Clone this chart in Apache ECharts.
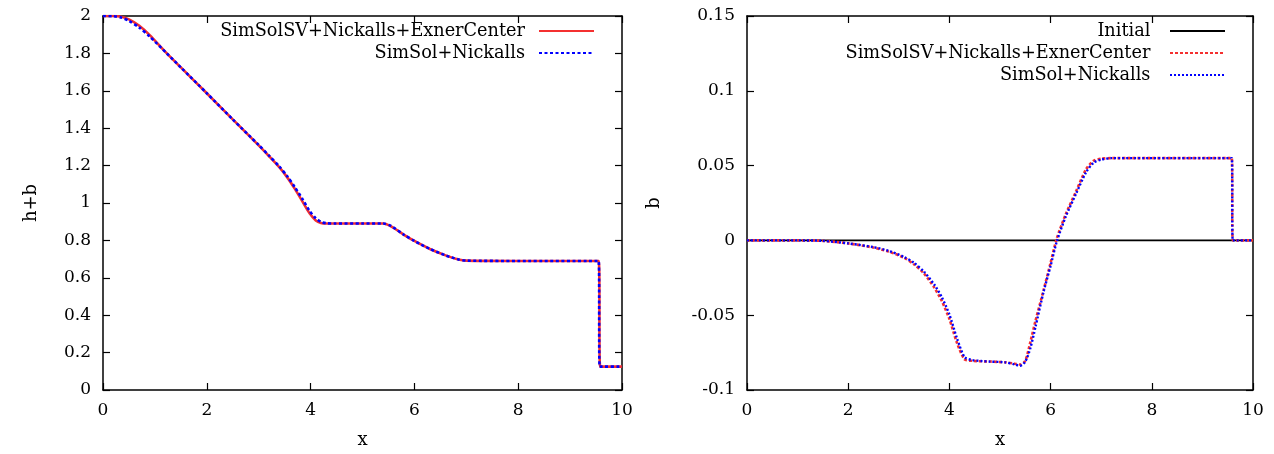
<!DOCTYPE html>
<html>
<head>
<meta charset="utf-8">
<script src="https://cdn.jsdelivr.net/npm/echarts@6/dist/echarts.min.js"></script>
<style>
html,body{margin:0;padding:0;background:#fff;}
#chart{width:1274px;height:454px;}
</style>
</head>
<body>
<div id="chart"></div>
<script>
// ---- Data ----
// Left panel: h+b
const hbX    = [0, 0.2, 0.35, 0.5, 0.7, 0.9, 1.23, 1.5, 2.0, 2.5, 3.0, 3.2, 3.4, 3.55, 3.7, 3.85, 3.98, 4.1, 4.2, 4.3, 4.45, 5.0, 5.4, 5.55, 5.8, 6.0, 6.3, 6.6, 6.85, 7.0, 8.0, 9.55, 9.58, 10];
const hbRed  = [2.0, 2.0, 1.996, 1.982, 1.948, 1.898, 1.80, 1.725, 1.587, 1.447, 1.308, 1.25, 1.19, 1.137, 1.074, 1.005, 0.945, 0.907, 0.893, 0.89, 0.89, 0.89, 0.89, 0.875, 0.83, 0.797, 0.754, 0.72, 0.698, 0.692, 0.69, 0.69, 0.125, 0.125];
const hbBlueX = [0, 0.2, 0.35, 0.5, 0.7, 0.9, 1.23, 1.5, 2.0, 2.5, 3.0, 3.2, 3.4, 3.55, 3.7, 3.85, 3.98, 4.1, 4.2, 4.3, 4.45, 5.0, 5.4, 5.55, 5.8, 6.0, 6.3, 6.6, 6.85, 7.0, 8.0, 9.55, 9.57, 10];
const hbBlue = [2.0, 1.999, 1.992, 1.974, 1.938, 1.89, 1.80, 1.725, 1.587, 1.447, 1.31, 1.253, 1.194, 1.143, 1.083, 1.018, 0.958, 0.918, 0.899, 0.892, 0.89, 0.89, 0.89, 0.877, 0.83, 0.797, 0.754, 0.72, 0.698, 0.692, 0.69, 0.69, 0.125, 0.125];

// Right panel: b
const bX    = [0, 1.0, 1.5, 2.0, 2.5, 2.8, 3.1, 3.3, 3.5, 3.7, 3.85, 4.0, 4.15, 4.3, 4.45, 4.8, 5.1, 5.3, 5.4, 5.5, 5.6, 5.7, 5.86, 6.0, 6.12, 6.3, 6.5, 6.7, 6.85, 7.0, 7.2, 9.58, 9.6, 10];
const bRed  = [0, 0, -0.0003, -0.002, -0.0048, -0.0075, -0.0115, -0.016, -0.0222, -0.0315, -0.0405, -0.0525, -0.0685, -0.0795, -0.0805, -0.081, -0.0815, -0.0825, -0.083, -0.0805, -0.068, -0.054, -0.0335, -0.015, 0.001, 0.0175, 0.0325, 0.0475, 0.0532, 0.0546, 0.055, 0.055, 0, 0];
const bBlue = [0, 0, -0.0003, -0.002, -0.0045, -0.007, -0.011, -0.015, -0.021, -0.0295, -0.038, -0.0495, -0.0655, -0.078, -0.080, -0.081, -0.0815, -0.083, -0.0838, -0.081, -0.072, -0.058, -0.0345, -0.017, -0.001, 0.016, 0.031, 0.0455, 0.052, 0.054, 0.055, 0.055, 0, 0];
const initX = [0, 10];
const initB = [0, 0];

// Axis ticks
const xTicks = {min: 0, max: 10, interval: 2};
const hbTicks = {min: 0, max: 2, interval: 0.2};
const bTicks = {min: -0.1, max: 0.15, interval: 0.05};

const names = {
  initial: 'Initial',
  sv: 'SimSolSV+Nickalls+ExnerCenter',
  ss: 'SimSol+Nickalls'
};

// ---- helpers ----
function zip(xs, ys) { return xs.map((x, i) => [x, ys[i]]); }
const FONT = 'DejaVu Serif';
const axisLine = {show: true, onZero: false, lineStyle: {color: '#000', width: 1.5}};
const axisTick = {show: true, inside: true, length: 7, lineStyle: {color: '#000', width: 1.2}};
const axisLabel = {show: true, color: '#000', fontFamily: FONT, fontSize: 17, margin: 12};

function xAxisDef(grid, top, name) {
  return Object.assign({
    type: 'value', gridIndex: grid, position: top ? 'top' : 'bottom',
    axisLine, axisTick, splitLine: {show: false},
    axisLabel: top ? {show: false} : axisLabel,
    name: top ? '' : name, nameLocation: 'middle', nameGap: 41,
    nameTextStyle: {color: '#000', fontFamily: FONT, fontSize: 18}
  }, xTicks);
}
function yAxisDef(grid, right, ticks, name, gap) {
  return Object.assign({
    type: 'value', gridIndex: grid, position: right ? 'right' : 'left',
    axisLine, axisTick, splitLine: {show: false},
    axisLabel: right ? {show: false} : axisLabel,
    name: right ? '' : name, nameLocation: 'middle', nameGap: gap, nameRotate: 90,
    nameTextStyle: {color: '#000', fontFamily: FONT, fontSize: 18}
  }, ticks);
}

const legendText = {color: '#000', fontFamily: FONT, fontSize: 17.7, lineHeight: 22, padding: [0, 9, 0, 0]};
const legendCommon = {
  orient: 'vertical', align: 'right', top: 20, itemGap: 0, padding: 0,
  itemWidth: 55, itemHeight: 14, textStyle: legendText,
  itemStyle: {opacity: 0}
};

const option = {
  animation: false,
  backgroundColor: '#fff',
  grid: [
    {left: 103, right: 652, top: 16, bottom: 64},
    {left: 747, right: 21, top: 16, bottom: 64}
  ],
  xAxis: [
    xAxisDef(0, false, 'x'), xAxisDef(0, true, ''),
    xAxisDef(1, false, 'x'), xAxisDef(1, true, '')
  ],
  yAxis: [
    yAxisDef(0, false, hbTicks, 'h+b', 63), yAxisDef(0, true, hbTicks, '', 0),
    yAxisDef(1, false, bTicks, 'b', 84), yAxisDef(1, true, bTicks, '', 0)
  ],
  legend: [
    Object.assign({}, legendCommon, {
      right: 679,
      data: [names.sv, names.ss].map(n => ({name: n}))
    }),
    Object.assign({}, legendCommon, {
      right: 48,
      data: [names.initial + ' ', names.sv + ' ', names.ss + ' '].map(n => ({name: n}))
    })
  ],
  series: [
    {
      name: names.sv, type: 'line', xAxisIndex: 0, yAxisIndex: 0,
      data: zip(hbX, hbRed), showSymbol: false, smooth: 0.25,
      lineStyle: {color: '#f43030', width: 2.6, type: 'solid'}, itemStyle: {color: '#f43030'}, z: 2
    },
    {
      name: names.ss, type: 'line', xAxisIndex: 0, yAxisIndex: 0,
      data: zip(hbBlueX, hbBlue), showSymbol: false, smooth: 0.25,
      lineStyle: {color: '#0000ff', width: 2.6, type: [3, 2.5]}, itemStyle: {color: '#0000ff'}, z: 3
    },
    {
      name: names.initial + ' ', type: 'line', xAxisIndex: 2, yAxisIndex: 2,
      data: zip(initX, initB), showSymbol: false,
      lineStyle: {color: '#000', width: 1.6, type: 'solid'}, itemStyle: {color: '#000'}, z: 1
    },
    {
      name: names.sv + ' ', type: 'line', xAxisIndex: 2, yAxisIndex: 2,
      data: zip(bX, bRed), showSymbol: false, smooth: 0.25,
      lineStyle: {color: '#f43030', width: 2.6, type: [3, 2]}, itemStyle: {color: '#f43030'}, z: 2
    },
    {
      name: names.ss + ' ', type: 'line', xAxisIndex: 2, yAxisIndex: 2,
      data: zip(bX, bBlue), showSymbol: false, smooth: 0.25,
      lineStyle: {color: '#0000ff', width: 2.4, type: [2, 2]}, itemStyle: {color: '#0000ff'}, z: 3
    }
  ]
};

const chart = echarts.init(document.getElementById('chart'), null, {renderer: 'canvas'});
chart.setOption(option);
</script>
</body>
</html>
